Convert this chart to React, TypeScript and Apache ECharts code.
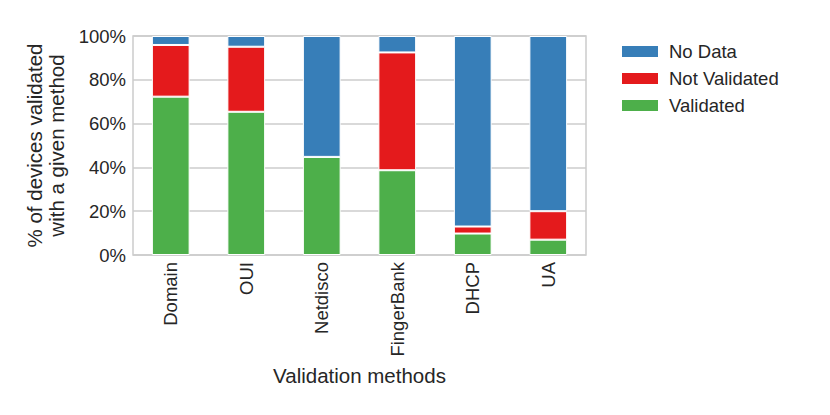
import React, { useEffect, useRef } from "react";
import * as echarts from "echarts";

const categories = ["Domain", "OUI", "Netdisco", "FingerBank", "DHCP", "UA"];
const validated = [72.3, 65.4, 44.8, 38.7, 9.8, 7.0];
const notValidated = [23.6, 29.7, 0, 53.8, 3.2, 13.0];
const noData = [4.1, 4.9, 55.2, 7.5, 87.0, 80.0];
const yTicks = [0, 20, 40, 60, 80, 100];

const FONT = "'Liberation Sans', Arial, Helvetica, sans-serif";
const TXT = "#262626";

export default function App() {
  const ref = useRef<HTMLDivElement>(null);
  useEffect(() => {
    document.body.style.margin = "0";
    const chart = echarts.init(ref.current!, null, { renderer: "svg" });
    const barStyle = (color: string) => ({
      color,
      borderColor: "#ffffff",
      borderWidth: 1,
    });
    chart.setOption({
      animation: false,
      textStyle: { fontFamily: FONT, color: TXT },
      grid: {
        left: 133,
        right: 244,
        top: 36,
        bottom: 160,
        show: true,
        borderColor: "#cccccc",
        borderWidth: 1.5,
        backgroundColor: "transparent",
      },
      legend: {
        orient: "vertical",
        left: 617,
        top: 37,
        itemWidth: 36,
        itemHeight: 11,
        itemGap: 8,
        icon: "rect",
        data: ["No Data", "Not Validated", "Validated"],
        itemStyle: { borderWidth: 0 },
        textStyle: {
          fontFamily: FONT,
          fontSize: 18.5,
          lineHeight: 19,
          color: TXT,
          padding: [0, 0, 0, 6],
        },
      },
      xAxis: {
        type: "category",
        data: categories,
        boundaryGap: true,
        axisLine: { show: false },
        axisTick: { show: false },
        axisLabel: {
          rotate: 90,
          fontFamily: FONT,
          fontSize: 18.5,
          color: TXT,
          margin: 7,
        },
        name: "Validation methods",
        nameLocation: "middle",
        nameGap: 110,
        nameTextStyle: { fontFamily: FONT, fontSize: 20.5, color: TXT },
      },
      yAxis: {
        type: "value",
        min: yTicks[0],
        max: yTicks[yTicks.length - 1],
        interval: 20,
        axisLine: { show: false },
        axisTick: { show: false },
        splitLine: { lineStyle: { color: "#cccccc", width: 1.5 } },
        axisLabel: {
          formatter: "{value}%",
          fontFamily: FONT,
          fontSize: 18.5,
          color: TXT,
          margin: 7,
        },
        name: "% of devices validated\nwith a given method",
        nameLocation: "middle",
        nameRotate: 90,
        nameGap: 60,
        nameTextStyle: {
          fontFamily: FONT,
          fontSize: 20.5,
          color: TXT,
          lineHeight: 22,
        },
      },
      series: [
        {
          name: "Validated",
          type: "bar",
          stack: "all",
          barWidth: "50%",
          data: validated,
          itemStyle: barStyle("#4daf4a"),
        },
        {
          name: "Not Validated",
          type: "bar",
          stack: "all",
          barWidth: "50%",
          data: notValidated,
          itemStyle: barStyle("#e41a1c"),
        },
        {
          name: "No Data",
          type: "bar",
          stack: "all",
          barWidth: "50%",
          data: noData,
          itemStyle: barStyle("#377eb8"),
        },
      ],
    });
    return () => chart.dispose();
  }, []);
  return <div ref={ref} style={{ width: 830, height: 415 }} />;
}
